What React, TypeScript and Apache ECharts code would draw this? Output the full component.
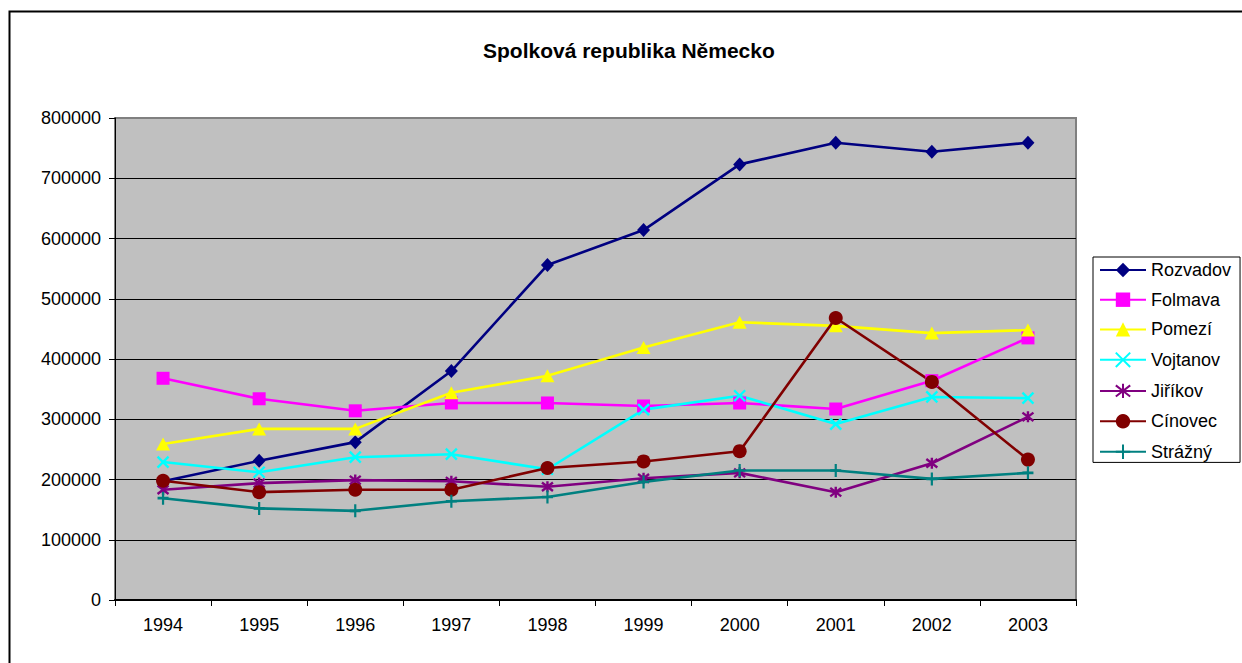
import React, { useEffect, useRef } from "react";
import * as echarts from "echarts";

const years = ["1994", "1995", "1996", "1997", "1998", "1999", "2000", "2001", "2002", "2003"];
const rozvadov = [197000, 231000, 262000, 380000, 556000, 614000, 723000, 759000, 744000, 759000];
const folmava = [368000, 334000, 314000, 327000, 327000, 322000, 327000, 317000, 364000, 435000];
const pomezi = [259000, 284000, 284000, 344000, 372000, 419000, 461000, 455000, 443000, 448000];
const vojtanov = [229000, 212000, 237000, 242000, 217000, 316000, 339000, 292000, 337000, 335000];
const jirikov = [183000, 194000, 199000, 197000, 188000, 202000, 211000, 179000, 227000, 304000];
const cinovec = [198000, 179000, 183000, 183000, 219000, 230000, 247000, 468000, 362000, 233000];
const strazny = [169000, 152000, 148000, 164000, 171000, 196000, 215000, 215000, 201000, 211000];

const FONT = "'Liberation Sans', Arial, sans-serif";

export default function App() {
  const ref = useRef<HTMLDivElement>(null);
  useEffect(() => {
    if (!ref.current) return;
    const chart = echarts.init(ref.current, undefined, { renderer: "svg" });
    const lineSeries = (name: string, data: number[], color: string, symbol: string, size: number | number[], stroked = false) => ({
      name,
      type: "line",
      data,
      symbol,
      symbolSize: size,
      showSymbol: true,
      lineStyle: { color, width: 2.6 },
      itemStyle: stroked
        ? { color: "none", borderColor: color, borderWidth: 2.4 }
        : { color, borderWidth: 0 },
      emphasis: { disabled: true },
    });
    chart.setOption({
      animation: false,
      textStyle: { fontFamily: FONT },
      title: {
        text: "Spolková republika Německo",
        left: 483,
        top: 40,
        padding: 0,
        textStyle: { fontFamily: FONT, fontSize: 21, fontWeight: "bold", color: "#000" },
      },
      graphic: [
        {
          type: "rect",
          shape: { x: 9.5, y: 11.5, width: 1300, height: 700 },
          style: { fill: "none", stroke: "#000", lineWidth: 2 },
          silent: true,
        },
      ],
      grid: {
        left: 115,
        top: 118,
        right: 166,
        bottom: 63,
        show: true,
        backgroundColor: "#c0c0c0",
        borderColor: "#808080",
        borderWidth: 2,
      },
      legend: {
        orient: "vertical",
        left: 1093,
        top: 257,
        padding: [4, 9, 1, 6],
        itemGap: 11.7,
        itemWidth: 46,
        itemHeight: 18,
        backgroundColor: "#fff",
        borderColor: "#000",
        borderWidth: 1,
        borderRadius: 0,
        textStyle: { fontFamily: FONT, fontSize: 18, color: "#000", lineHeight: 18 },
        data: ["Rozvadov", "Folmava", "Pomezí", "Vojtanov", "Jiříkov", "Cínovec", "Strážný"],
      },
      xAxis: {
        type: "category",
        data: years,
        boundaryGap: true,
        axisLine: { lineStyle: { color: "#000", width: 2 } },
        axisTick: { show: true, length: 6, alignWithLabel: false, lineStyle: { color: "#000", width: 1 } },
        axisLabel: { fontFamily: FONT, fontSize: 18, color: "#000", margin: 16 },
        splitLine: { show: false },
      },
      yAxis: {
        type: "value",
        min: 0,
        max: 800000,
        interval: 100000,
        axisLine: { show: true, lineStyle: { color: "#000", width: 1 } },
        axisTick: { show: true, length: 6, lineStyle: { color: "#000", width: 1 } },
        axisLabel: { fontFamily: FONT, fontSize: 18, color: "#000", margin: 14, formatter: (v: number) => String(v) },
        splitLine: { show: true, showMinLine: false, showMaxLine: false, lineStyle: { color: "#000", width: 1 } },
      },
      series: [
        lineSeries("Rozvadov", rozvadov, "#000080", "diamond", [13, 14]),
        lineSeries("Folmava", folmava, "#ff00ff", "rect", 13),
        lineSeries("Pomezí", pomezi, "#ffff00", "triangle", [14, 13]),
        lineSeries("Vojtanov", vojtanov, "#00ffff", "path://M0,0L10,10M10,0L0,10", 11, true),
        lineSeries("Jiříkov", jirikov, "#800080", "path://M0,0L10,10M10,0L0,10M5,-1.5L5,11.5", 11, true),
        lineSeries("Cínovec", cinovec, "#800000", "circle", 14),
        lineSeries("Strážný", strazny, "#008080", "path://M5,0L5,12M0,6L10,6", [11, 13], true),
      ],
    });
    return () => chart.dispose();
  }, []);
  return (
    <div
      ref={ref}
      style={{ position: "fixed", left: 0, top: 0, width: 1242, height: 663, background: "#fff" }}
    />
  );
}
